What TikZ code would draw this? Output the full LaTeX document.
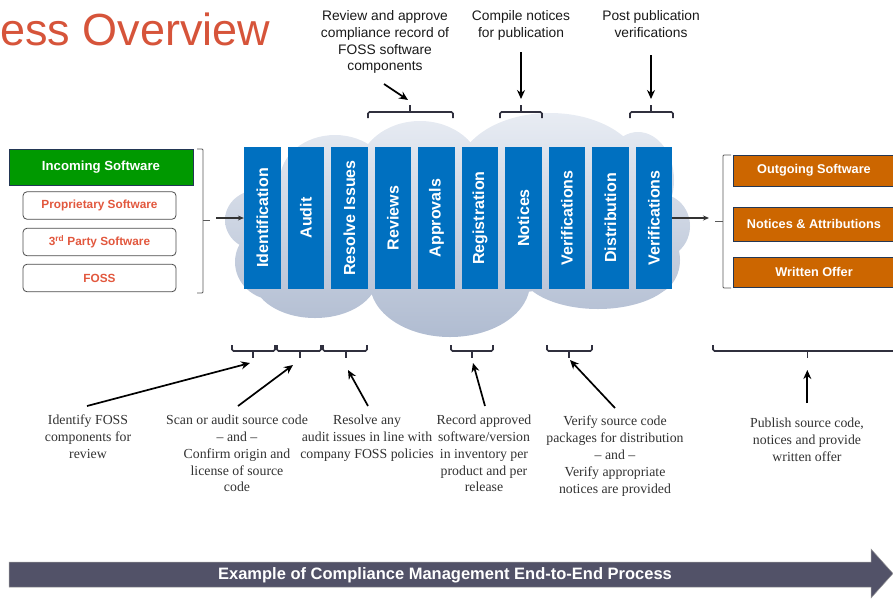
\documentclass[tikz,border=0pt]{standalone}
\usepackage{fontspec}
\setmainfont{Liberation Serif}
\newfontfamily\arial{Liberation Sans}
\usetikzlibrary{arrows.meta}
\definecolor{stepblue}{RGB}{0,112,192}
\definecolor{ingreen}{RGB}{0,153,0}
\definecolor{outorange}{RGB}{204,102,0}
\definecolor{boxborder}{RGB}{35,55,85}
\definecolor{redtext}{RGB}{226,88,62}
\definecolor{titlered}{RGB}{214,84,58}
\definecolor{cloudtop}{RGB}{232,236,243}
\definecolor{cloudbot}{RGB}{176,188,209}
\definecolor{bracecol}{RGB}{48,48,62}
\definecolor{bargray}{RGB}{82,82,104}
\definecolor{notegray}{RGB}{50,50,50}
\tikzset{
  stepbox/.style={rotate=90, fill=stepblue, text=white, inner sep=0pt,
    minimum width=142pt, minimum height=36.5pt,
    font=\arial\bfseries\fontsize{16}{17}\selectfont},
  inbox/.style={fill=ingreen, draw=boxborder, line width=0.8pt, text=white, inner sep=0pt,
    minimum width=184pt, minimum height=36pt, font=\arial\bfseries\fontsize{13.2}{15}\selectfont},
  srcbox/.style={fill=white, draw=black!70, line width=0.8pt, rounded corners=4pt, text=redtext,
    inner sep=0pt, minimum width=153pt, minimum height=27.5pt,
    font=\arial\bfseries\fontsize{11.8}{14}\selectfont},
  outbox/.style={fill=outorange, draw=boxborder, line width=0.8pt, text=white, inner sep=0pt,
    minimum width=162pt, font=\arial\bfseries\fontsize{12.7}{15}\selectfont},
  toptext/.style={anchor=north, align=center, inner sep=0pt, text=black!90,
    font=\arial\fontsize{13.8}{16.7}\selectfont},
  bottext/.style={anchor=north, align=center, inner sep=0pt, text=notegray,
    font=\fontsize{13.8}{16.8}\selectfont},
  bracestyle/.style={draw=bracecol, line width=1.6pt, rounded corners=1.5pt},
  bracketstyle/.style={draw=black!65, line width=0.8pt, rounded corners=1pt},
  notearrow/.style={draw=black, line width=1.7pt, -{Stealth[length=9pt,width=8pt]}},
  flowarrow/.style={draw=black!80, line width=1.2pt, -{Stealth[length=6pt,width=5pt]}}
}
\begin{document}
\begin{tikzpicture}[x=1pt,y=-1pt]
\useasboundingbox (0,0) rectangle (893,598);

% title
\node[anchor=base west, inner sep=0pt, text=titlered, font=\arial\fontsize{45}{50}\selectfont] (title) at (0,45) {ess Overview};

% cloud
\shade[top color=cloudtop, bottom color=cloudbot]
  (455,222) ellipse [x radius=200, y radius=75]
  (258,220) ellipse [x radius=33, y radius=30]
  (275,262) ellipse [x radius=40, y radius=38]
  (335,180) ellipse [x radius=55, y radius=45]
  (420,172) ellipse [x radius=62, y radius=51]
  (550,172) ellipse [x radius=92, y radius=59]
  (638,180) ellipse [x radius=36, y radius=48]
  (660,226) ellipse [x radius=30, y radius=32]
  (650,260) ellipse [x radius=30, y radius=35]
  (315,278) ellipse [x radius=62, y radius=40]
  (450,283) ellipse [x radius=80, y radius=54]
  (598,270) ellipse [x radius=78, y radius=39];

% process steps
\foreach \i/\t in {0/Identification,1/Audit,2/Resolve Issues,3/Reviews,4/Approvals,
  5/Registration,6/Notices,7/Verifications,8/Distribution,9/Verifications}
  \node[stepbox] (b\i) at (262.3+43.52*\i,218) {\t};

% incoming
\node[inbox] (inc) at (101,167) {Incoming Software};
\node[srcbox] (prop) at (99.5,205.5) {Proprietary Software};
\node[srcbox] (third) at (99.5,242) {3\textsuperscript{rd} Party Software};
\node[srcbox] (foss) at (99.5,278) {FOSS};
\draw[bracketstyle] (197,149) -- (203,149) -- (203,293) -- (197,293);
\draw[bracketstyle] (203,220) -- (210,220);
\coordinate (lin) at (216,218);
\draw[flowarrow] (lin) -- (b0);

% outgoing
\node[outbox, minimum height=31pt] (outsw) at (814,170.5) {Outgoing Software};
\node[outbox, minimum height=34pt] (notattr) at (814,224) {Notices \& Attributions};
\node[outbox, minimum height=30pt] (woffer) at (814,272) {Written Offer};
\draw[bracketstyle] (731,155) -- (723,155) -- (723,288) -- (731,288);
\draw[bracketstyle] (723,221) -- (715,221);
\coordinate (rout) at (709,218);
\draw[flowarrow] (b9) -- (rout);

% top braces
\draw[bracestyle] (368,118) -- (368,112) -- (453,112) -- (453,118);
\draw[bracestyle] (410,112) -- (410,105);
\draw[bracestyle] (500,118) -- (500,112) -- (542,112) -- (542,118);
\draw[bracestyle] (521,112) -- (521,105);
\draw[bracestyle] (630,118) -- (630,112) -- (673,112) -- (673,118);
\draw[bracestyle] (651,112) -- (651,105);

% top notes
\node[toptext] (tt1) at (385,10.5) {Review and approve\\compliance record of\\FOSS software\\components};
\node[toptext] (tt2) at (521,10.5) {Compile notices\\for publication};
\node[toptext] (tt3) at (651,10.5) {Post publication\\verifications};
\coordinate (ts1) at (384,84);   \coordinate (th1) at (408,100);
\coordinate (ts2) at (521,52);   \coordinate (th2) at (521,99);
\coordinate (ts3) at (651,55);   \coordinate (th3) at (651,99);
\draw[notearrow] (ts1) -- (th1);
\draw[notearrow] (ts2) -- (th2);
\draw[notearrow] (ts3) -- (th3);

% bottom braces
\foreach \a/\m/\b in {232/253/275, 277/300/321, 323/345.7/367, 451/471.7/493, 547/569/592, 713/807.3/902}{
  \draw[bracestyle] (\a,345) -- (\a,351) -- (\b,351) -- (\b,345);
  \draw[bracestyle] (\m,351) -- (\m,358);
}

% bottom notes
\node[bottext] (bt1) at (88,415) {Identify FOSS\\components for\\review};
\node[bottext] (bt2) at (237,415) {Scan or audit source code\\– and –\\Confirm origin and\\license of source\\code};
\node[bottext] (bt3) at (367,415) {Resolve any\\audit issues in line with\\company FOSS policies};
\node[bottext] (bt4) at (484,415) {Record approved\\software/version\\in inventory per\\product and per\\release};
\node[bottext] (bt5) at (615,416) {Verify source code\\packages for distribution\\– and –\\Verify appropriate\\notices are provided};
\node[bottext] (bt6) at (807,418) {Publish source code,\\notices and provide\\written offer};

\coordinate (bs1) at (87,406);   \coordinate (bh1) at (250,363);
\coordinate (bs2) at (238,406);  \coordinate (bh2) at (293,365);
\coordinate (bs3) at (368,406);  \coordinate (bh3) at (348,370);
\coordinate (bs4) at (485,406);  \coordinate (bh4) at (473,363);
\coordinate (bs5) at (615,408);  \coordinate (bh5) at (570,360);
\coordinate (bs6) at (807.3,403);\coordinate (bh6) at (807.3,370);
\foreach \k in {1,...,6} \draw[notearrow] (bs\k) -- (bh\k);

% bottom process arrow
\fill[bargray, draw=black!40, line width=0.5pt] (9,562) -- (871,562) -- (871,549) -- (893,573.5)
  -- (871,598) -- (871,587) -- (9,587) -- cycle;
\node[text=white, inner sep=0pt, font=\arial\bfseries\fontsize{16.5}{18}\selectfont] (barlabel) at (445,575)
  {Example of Compliance Management End-to-End Process};
\end{tikzpicture}
\end{document}
